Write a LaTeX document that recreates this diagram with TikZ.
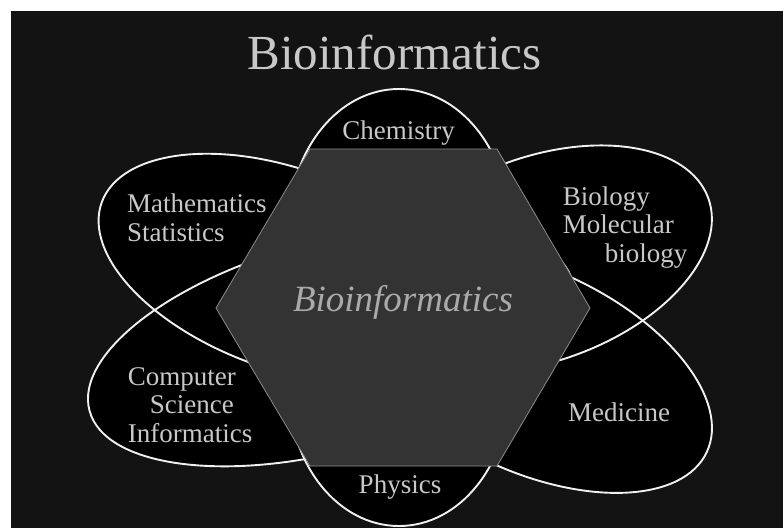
\documentclass[tikz,border=0pt]{standalone}
\usepackage{fontspec}
\setmainfont{Liberation Serif}
\definecolor{bgdark}{HTML}{131313}
\definecolor{hexfill}{HTML}{333333}
\definecolor{hexline}{HTML}{8C8C8C}
\definecolor{labelgray}{HTML}{C8C8C8}
% centre x / centre y / x radius / y radius / tilt of each petal
\newcommand{\petallist}{-117.5/38.5/195/100/-20, -71.5/-38.5/250/105/15,
  138.5/48.5/178/102/20, 128.5/-62.5/194/101/-25,
  -3.5/81.5/110/137/0, -3.5/-81.5/110/137/0}

\begin{document}
\begin{tikzpicture}[x=1pt, y=1pt,
    petal/.style={fill=black},
    rim/.style={draw=white!94!black, line width=1.9pt},
    field/.style={text=labelgray, inner sep=0pt, font=\fontsize{27}{28.5}\selectfont},
  ]
  \useasboundingbox (-402.5,-220.5) rectangle (380.5,307.5);
  \fill[white] (-402.5,-220.5) rectangle (380.5,307.5);
  \fill[bgdark] (-391.5,-220.5) rectangle (380.5,296.5);

  % petals: all fills first, then all rims, so the crossings stay visible
  \foreach \cx/\cy/\a/\b/\r in \petallist
    \fill[petal, rotate around={\r:(\cx,\cy)}] (\cx,\cy) ellipse [x radius=\a, y radius=\b];
  \foreach \cx/\cy/\a/\b/\r in \petallist
    \draw[rim, rotate around={\r:(\cx,\cy)}] (\cx,\cy) ellipse [x radius=\a, y radius=\b];

  % the hexagon in the middle
  \draw[fill=hexfill, draw=hexline, line width=0.8pt]
    (-92.5,158.5) -- (94.5,158.5) -- (187.5,-0.5) -- (94.5,-158.5)
    -- (-92.5,-158.5) -- (-186.5,-0.5) -- cycle;

  \node[text=labelgray, inner sep=0pt, anchor=base, font=\fontsize{49}{50}\selectfont] (title) at (-8,237.5) {Bioinformatics};
  \node[text=labelgray!85!black, inner sep=0pt, anchor=base, font=\fontsize{37}{38}\selectfont\itshape] (core) at (0.5,-4.2) {Bioinformatics};

  \node[field, anchor=base] (chem) at (-4,168.2) {Chemistry};
  \node[field, anchor=base] (phys) at (-2.5,-185.8) {Physics};
  \node[field, anchor=base] (med) at (216.5,-114.2) {Medicine};
  % base of a multi-line node is its last line
  \node[field, anchor=base west, align=left] (math) at (-275.5,66.3) {Mathematics\\Statistics};
  \node[field, anchor=base west, align=left] (bio) at (160.2,45.3) {Biology\\Molecular\\\hspace*{42pt}biology};
  \node[field, anchor=base west, align=left] (comp) at (-274.8,-134.5) {Computer\\\hspace*{22pt}Science\\Informatics};
\end{tikzpicture}
\end{document}
